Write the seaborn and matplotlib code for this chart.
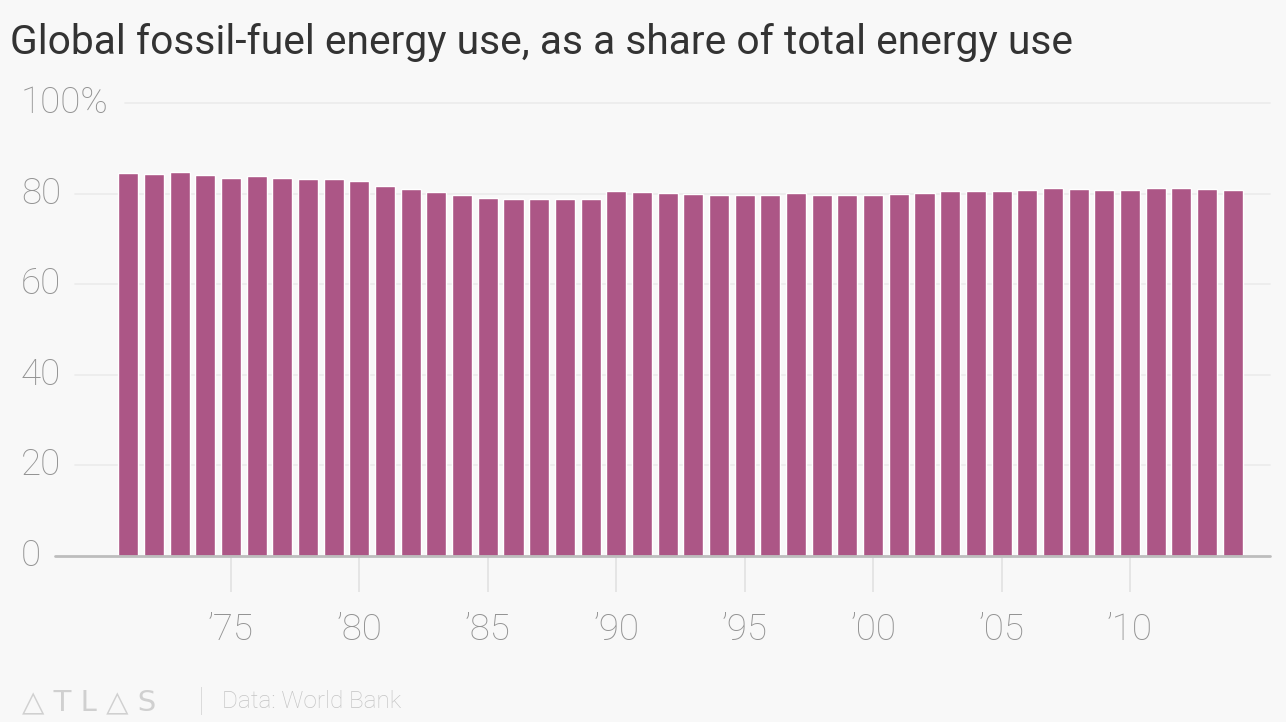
import numpy as np
import pandas as pd
import seaborn as sns
import matplotlib.pyplot as plt

# data (share of total energy use, %)
years = list(range(1971, 2015))
share = [84.5, 84.3, 84.8, 84.1, 83.4, 83.9, 83.5, 83.2, 83.3, 82.7,
         81.7, 81.0, 80.3, 79.8, 79.1, 78.7, 78.7, 78.7, 78.7, 80.6,
         80.3, 80.1, 80.0, 79.7, 79.7, 79.7, 80.1, 79.7, 79.7, 79.8,
         80.0, 80.1, 80.5, 80.5, 80.6, 80.8, 81.2, 81.0, 80.8, 80.9,
         81.2, 81.2, 81.0, 80.8]
tick_years = [1975, 1980, 1985, 1990, 1995, 2000, 2005, 2010]
tick_labels = ["\u2019" + str(y)[2:] for y in tick_years]
y_ticks = [0, 20, 40, 60, 80, 100]
y_labels = ["0", "20", "40", "60", "80", "100%"]

df = pd.DataFrame({"year": years, "share": share})

sns.set_style("white")
plt.rcParams["font.family"] = ["Roboto", "DejaVu Sans"]

bg = "#f8f8f8"
W, H = 1286, 722
fig = plt.figure(figsize=(W / 100, H / 100), dpi=100, facecolor=bg)
left_px, right_px, bottom_px, top_px = 55, 1270, 556, 103
ax = fig.add_axes([left_px / W, 1 - bottom_px / H,
                   (right_px - left_px) / W, (bottom_px - top_px) / H])
ax.set_facecolor(bg)

sns.barplot(data=df, x="year", y="share", color="#ac5686", saturation=1,
            width=0.78, ax=ax, zorder=3)

ax.set_xlim(-2.85, 44.45)
ax.set_ylim(0, 100)
for s in ax.spines.values():
    s.set_visible(False)

# gridlines begin just after each label
grid_start = {0: 55, 20: 75, 40: 75, 60: 75, 80: 75, 100: 125}
for v in y_ticks:
    xm = (grid_start[v] - left_px) / (right_px - left_px)
    if v == 0:
        ax.axhline(v, xmin=xm, xmax=1, color="#bdbdbd", lw=2, zorder=4, clip_on=False)
    else:
        ax.axhline(v, xmin=xm, xmax=1, color="#ebebeb", lw=1.2, zorder=1, clip_on=False)

ax.set_yticks([])
for v, lab in zip(y_ticks, y_labels):
    fig.text(21 / W, 1 - (556 - v * 4.53) / H, lab, ha="left", va="center",
             fontsize=26.5, color="#939393", fontweight="light")

ax.set_xticks([years.index(y) for y in tick_years])
ax.set_xticklabels(tick_labels, fontsize=26.5, color="#939393", fontweight="light")
ax.tick_params(axis="x", bottom=True, length=26, width=1.2, color="#e2e2e2",
               pad=14, direction="out")
ax.set_xlabel("")
ax.set_ylabel("")

fig.text(10 / W, 1 - 43 / H, "Global fossil-fuel energy use, as a share of total energy use",
         ha="left", va="center", fontsize=29.3, color="#333333")

fig.text(22 / W, 1 - 702 / H, "\u25b3 T L \u25b3 S", ha="left", va="center",
         fontsize=21, color="#d0d0d0", family=["DejaVu Sans"])
fig.text(198 / W, 1 - 702 / H, "|", ha="left", va="center", fontsize=24,
         color="#d8d8d8", fontweight="light")
fig.text(222 / W, 1 - 702 / H, "Data: World Bank", ha="left", va="center",
         fontsize=17.5, color="#c4c4c4", fontweight="light")

fig.savefig("out.png", dpi=100, facecolor=bg)
